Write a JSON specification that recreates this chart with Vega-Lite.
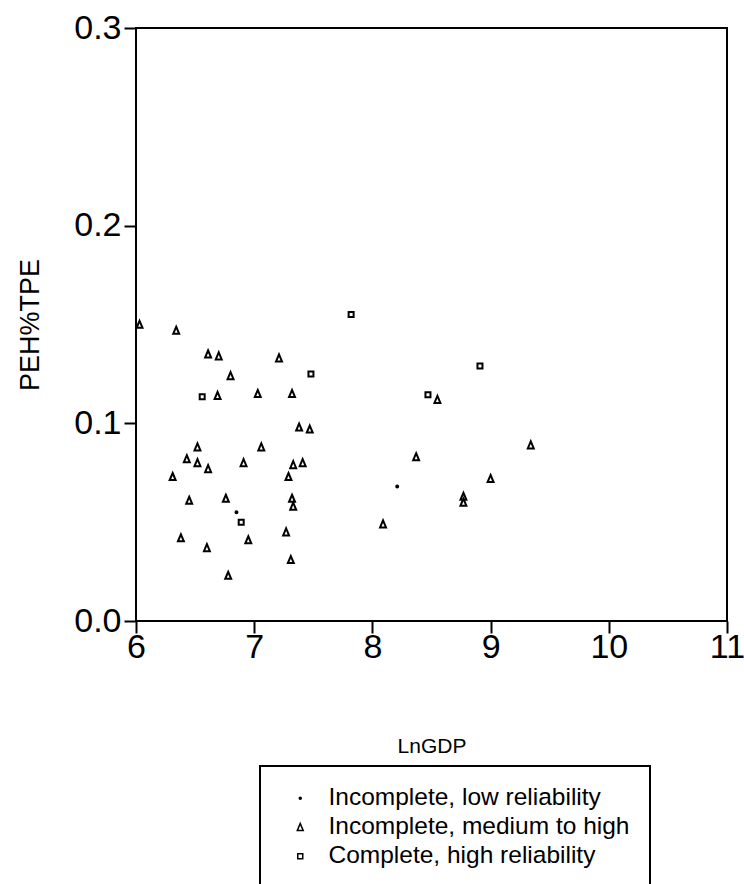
{
  "$schema": "https://vega.github.io/schema/vega-lite/v6.json",
  "width": 591,
  "height": 593,
  "autosize": {"type": "none"},
  "padding": {"left": 136, "top": 28, "right": 17, "bottom": 263},
  "background": "white",
  "config": {
    "font": "Liberation Sans",
    "view": {"stroke": "black", "strokeWidth": 2},
    "axis": {
      "domain": false,
      "grid": false,
      "ticks": true,
      "tickColor": "black",
      "tickWidth": 2,
      "tickSize": 12,
      "labelFont": "Liberation Sans",
      "labelFontSize": 34,
      "labelColor": "black",
      "titleFont": "Liberation Sans",
      "titleFontWeight": "normal",
      "titleColor": "black"
    },
    "legend": {
      "orient": "none",
      "legendX": 124,
      "legendY": 738,
      "strokeColor": "black",
      "strokeWidth": 2,
      "padding": 20,
      "labelFont": "Liberation Sans",
      "labelFontSize": 24.5,
      "labelColor": "black",
      "labelLimit": 600,
      "rowPadding": 4,
      "symbolOffset": 8,
      "labelOffset": 16
    }
  },
  "data": {
    "values": [
      {"lngdp": 6.03, "peh": 0.150, "type": "Incomplete, medium to high"},
      {"lngdp": 6.34, "peh": 0.147, "type": "Incomplete, medium to high"},
      {"lngdp": 6.61, "peh": 0.135, "type": "Incomplete, medium to high"},
      {"lngdp": 6.70, "peh": 0.134, "type": "Incomplete, medium to high"},
      {"lngdp": 7.21, "peh": 0.133, "type": "Incomplete, medium to high"},
      {"lngdp": 6.80, "peh": 0.124, "type": "Incomplete, medium to high"},
      {"lngdp": 6.69, "peh": 0.114, "type": "Incomplete, medium to high"},
      {"lngdp": 7.03, "peh": 0.115, "type": "Incomplete, medium to high"},
      {"lngdp": 7.32, "peh": 0.115, "type": "Incomplete, medium to high"},
      {"lngdp": 7.38, "peh": 0.098, "type": "Incomplete, medium to high"},
      {"lngdp": 7.47, "peh": 0.097, "type": "Incomplete, medium to high"},
      {"lngdp": 6.52, "peh": 0.088, "type": "Incomplete, medium to high"},
      {"lngdp": 7.06, "peh": 0.088, "type": "Incomplete, medium to high"},
      {"lngdp": 6.43, "peh": 0.082, "type": "Incomplete, medium to high"},
      {"lngdp": 6.52, "peh": 0.080, "type": "Incomplete, medium to high"},
      {"lngdp": 6.61, "peh": 0.077, "type": "Incomplete, medium to high"},
      {"lngdp": 6.91, "peh": 0.080, "type": "Incomplete, medium to high"},
      {"lngdp": 7.33, "peh": 0.079, "type": "Incomplete, medium to high"},
      {"lngdp": 7.41, "peh": 0.080, "type": "Incomplete, medium to high"},
      {"lngdp": 6.31, "peh": 0.073, "type": "Incomplete, medium to high"},
      {"lngdp": 7.29, "peh": 0.073, "type": "Incomplete, medium to high"},
      {"lngdp": 6.45, "peh": 0.061, "type": "Incomplete, medium to high"},
      {"lngdp": 6.76, "peh": 0.062, "type": "Incomplete, medium to high"},
      {"lngdp": 7.32, "peh": 0.062, "type": "Incomplete, medium to high"},
      {"lngdp": 7.33, "peh": 0.058, "type": "Incomplete, medium to high"},
      {"lngdp": 6.38, "peh": 0.042, "type": "Incomplete, medium to high"},
      {"lngdp": 6.95, "peh": 0.041, "type": "Incomplete, medium to high"},
      {"lngdp": 7.27, "peh": 0.045, "type": "Incomplete, medium to high"},
      {"lngdp": 6.60, "peh": 0.037, "type": "Incomplete, medium to high"},
      {"lngdp": 7.31, "peh": 0.031, "type": "Incomplete, medium to high"},
      {"lngdp": 6.78, "peh": 0.023, "type": "Incomplete, medium to high"},
      {"lngdp": 8.37, "peh": 0.083, "type": "Incomplete, medium to high"},
      {"lngdp": 8.55, "peh": 0.112, "type": "Incomplete, medium to high"},
      {"lngdp": 8.09, "peh": 0.049, "type": "Incomplete, medium to high"},
      {"lngdp": 8.77, "peh": 0.063, "type": "Incomplete, medium to high"},
      {"lngdp": 8.77, "peh": 0.060, "type": "Incomplete, medium to high"},
      {"lngdp": 9.00, "peh": 0.072, "type": "Incomplete, medium to high"},
      {"lngdp": 9.34, "peh": 0.089, "type": "Incomplete, medium to high"},
      {"lngdp": 6.56, "peh": 0.1135, "type": "Complete, high reliability"},
      {"lngdp": 7.82, "peh": 0.155, "type": "Complete, high reliability"},
      {"lngdp": 8.47, "peh": 0.1145, "type": "Complete, high reliability"},
      {"lngdp": 8.91, "peh": 0.129, "type": "Complete, high reliability"},
      {"lngdp": 7.48, "peh": 0.125, "type": "Complete, high reliability"},
      {"lngdp": 6.89, "peh": 0.050, "type": "Complete, high reliability"},
      {"lngdp": 6.85, "peh": 0.055, "type": "Incomplete, low reliability"},
      {"lngdp": 8.21, "peh": 0.068, "type": "Incomplete, low reliability"}
    ]
  },
  "mark": {"type": "point", "filled": false, "strokeWidth": 2, "opacity": 1},
  "encoding": {
    "x": {
      "field": "lngdp",
      "type": "quantitative",
      "scale": {"domain": [6, 11], "nice": false, "zero": false},
      "axis": {"title": "LnGDP", "values": [6, 7, 8, 9, 10, 11], "format": "d", "labelPadding": -3, "labelFlush": false, "titleFontSize": 21, "titlePadding": 71}
    },
    "y": {
      "field": "peh",
      "type": "quantitative",
      "scale": {"domain": [0, 0.3], "nice": false, "zero": true},
      "axis": {"title": "PEH%TPE", "values": [0, 0.1, 0.2, 0.3], "format": ".1f", "labelPadding": 3, "labelFlush": false, "titleFontSize": 27, "titlePadding": 29}
    },
    "color": {"value": "black"},
    "shape": {
      "field": "type",
      "type": "nominal",
      "title": null,
      "scale": {
        "domain": ["Incomplete, low reliability", "Incomplete, medium to high", "Complete, high reliability"],
        "range": ["circle", "M0,-1L0.8,0.9L-0.8,0.9Z", "square"]
      },
      "legend": {
        "encode": {
          "symbols": {"update": {
            "stroke": {"value": "black"},
            "strokeWidth": {"value": 2},
            "opacity": {"value": 1},
            "size": {"signal": "datum.value === 'Incomplete, low reliability' ? 4 : datum.value === 'Complete, high reliability' ? 10 : 22"}
          }}
        }
      }
    },
    "fill": {
      "field": "type",
      "type": "nominal",
      "title": null,
      "scale": {
        "domain": ["Incomplete, low reliability", "Incomplete, medium to high", "Complete, high reliability"],
        "range": ["black", "transparent", "transparent"]
      }
    },
    "size": {
      "field": "type",
      "type": "nominal",
      "title": null,
      "scale": {
        "type": "ordinal",
        "domain": ["Incomplete, low reliability", "Incomplete, medium to high", "Complete, high reliability"],
        "range": [4, 55, 25]
      }
    }
  }
}
